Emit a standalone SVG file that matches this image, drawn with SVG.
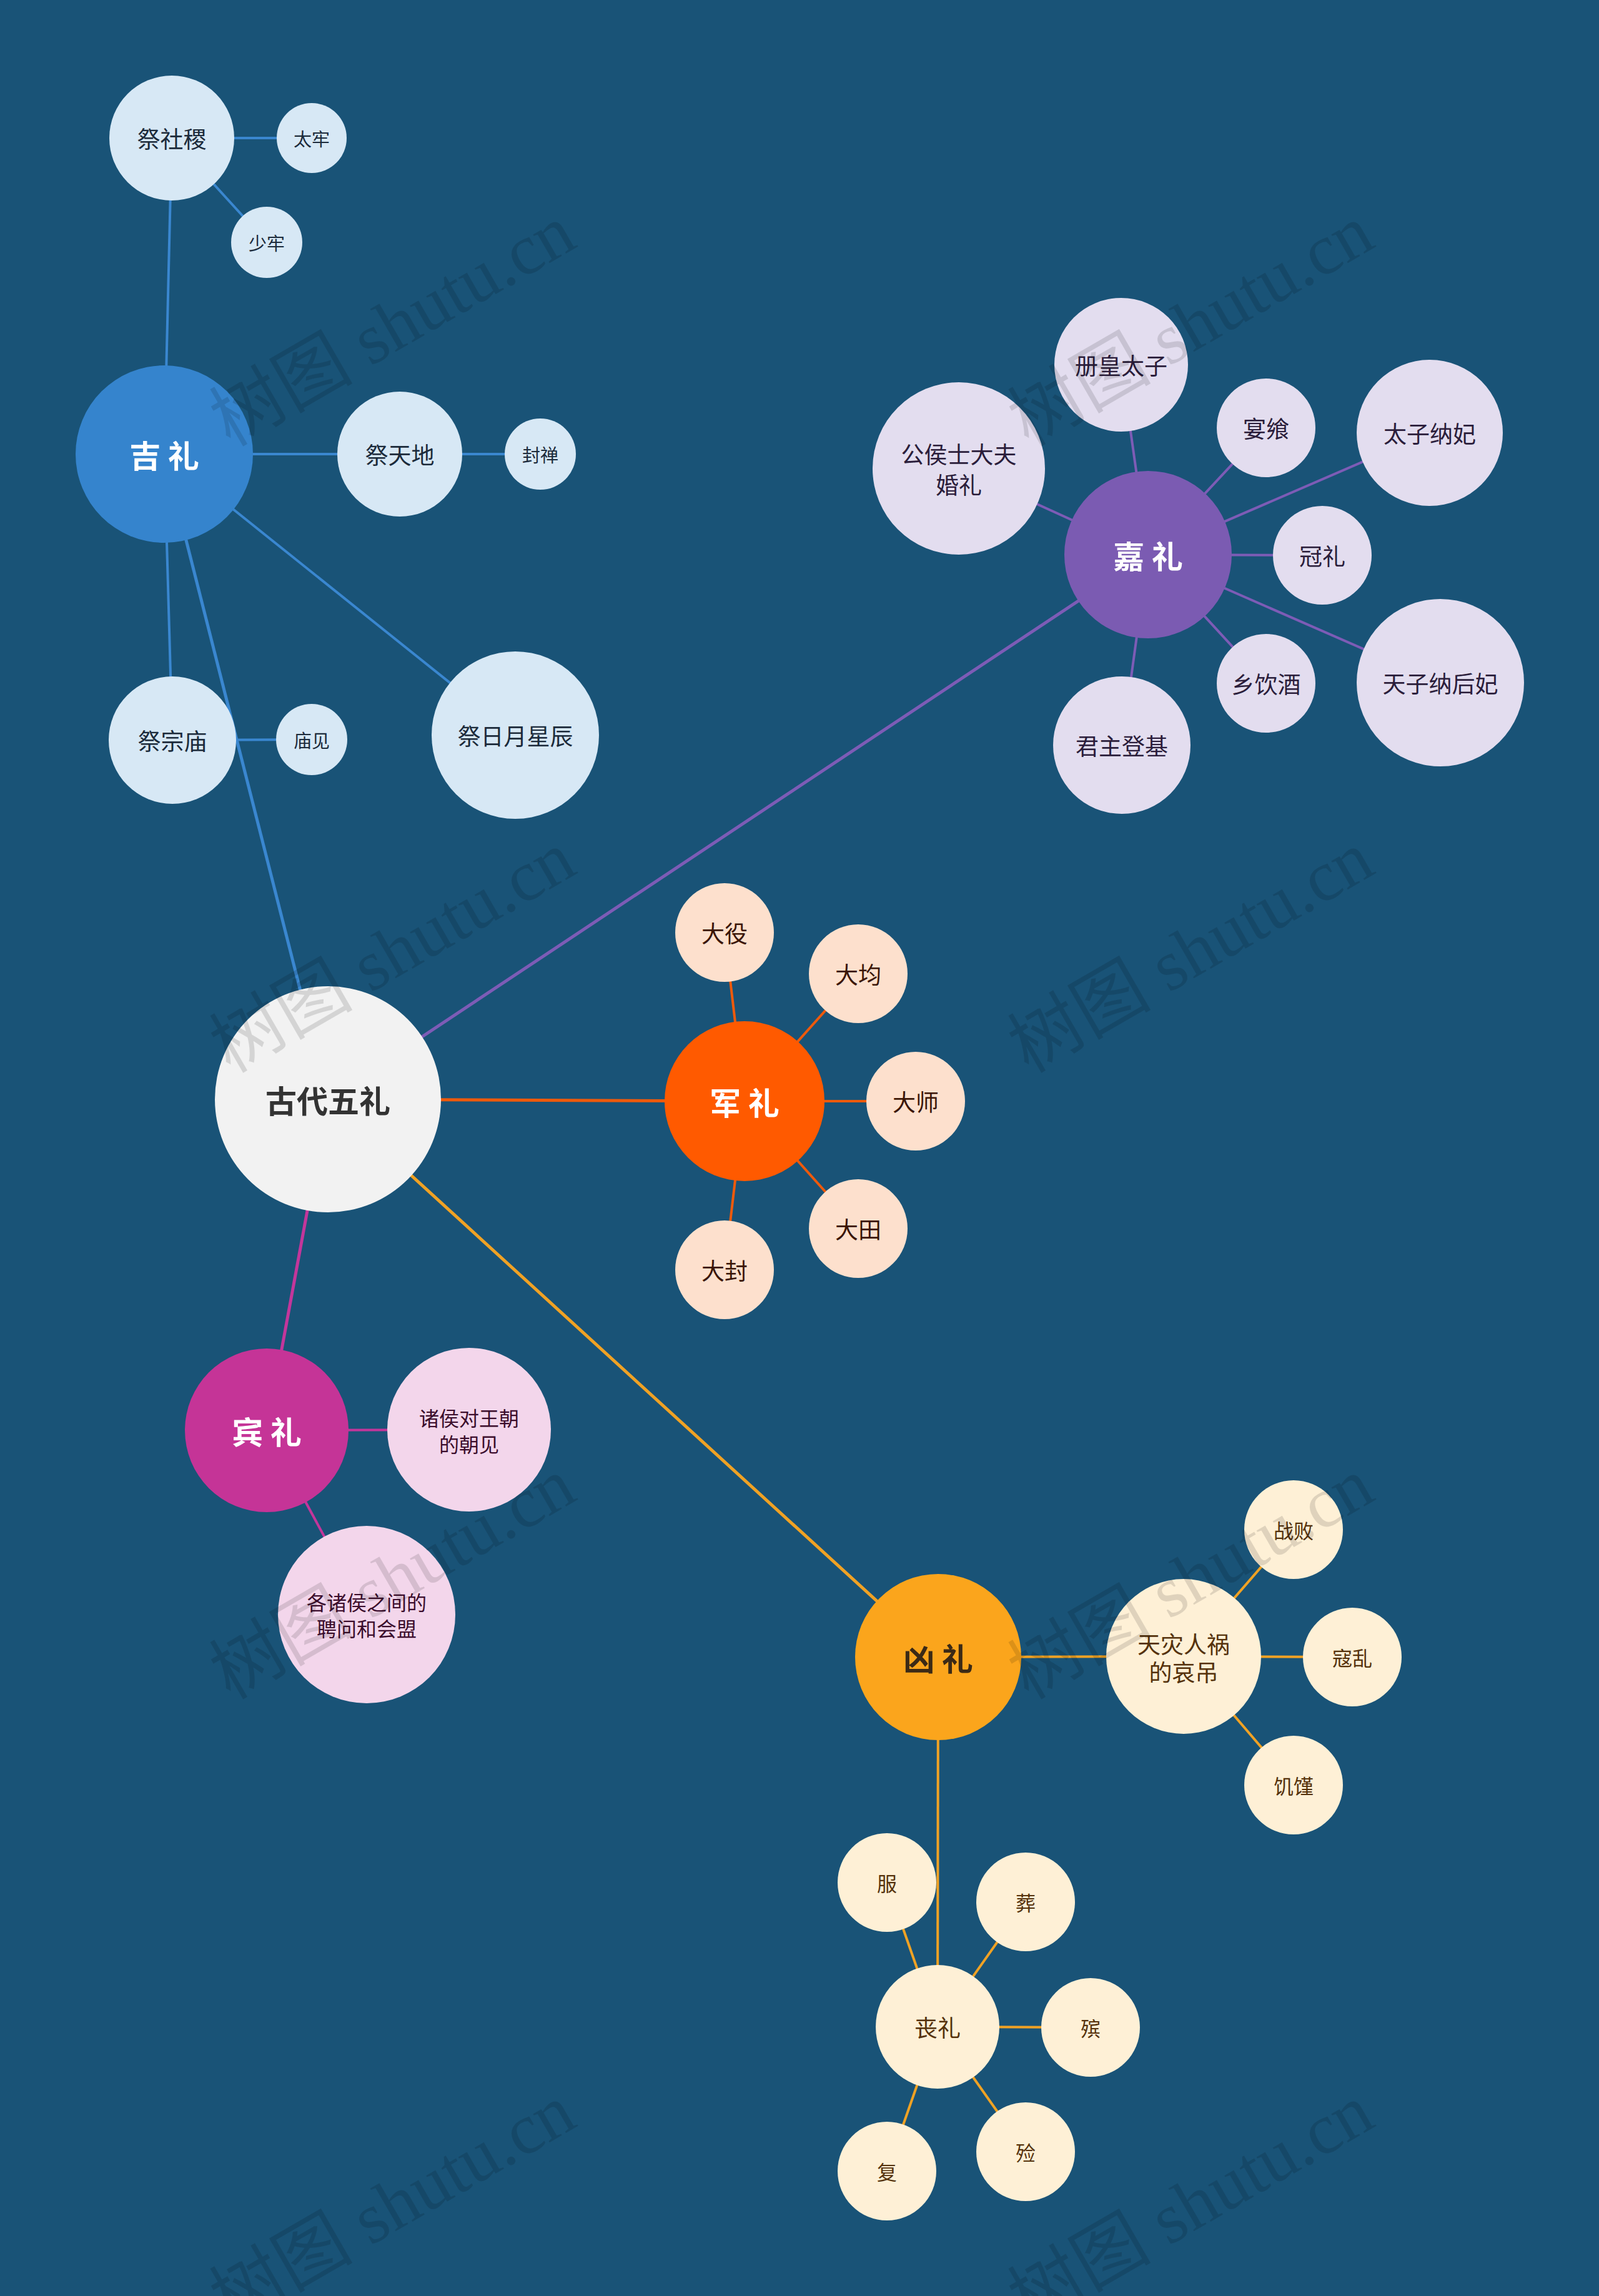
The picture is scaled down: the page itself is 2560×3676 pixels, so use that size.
<svg xmlns="http://www.w3.org/2000/svg" width="2560" height="3676" viewBox="0 0 2560 3676">
<style>
text{font-family:"Noto Sans CJK SC","Noto Sans",sans-serif;text-anchor:middle;dominant-baseline:central}
.main{font-size:50px;font-weight:bold;fill:#ffffff}
.root{font-size:50px;font-weight:bold;fill:#333333}
.t37{font-size:37px}
.t32{font-size:32px}
.t29{font-size:29px}
.cb{fill:#d7e8f5}.tb{fill:#1c2b3b}
.cp{fill:#e3ddef}.tp{fill:#2b1d3b}
.co{fill:#fde0cd}.to{fill:#3b1606}
.cm{fill:#f3d6eb}.tm{fill:#3b0d2c}
.cy{fill:#fef0d6}.ty{fill:#55320c}
.lb{stroke:#3a87d0}.lp{stroke:#7d5cb6}.lo{stroke:#ee5a0c}.lm{stroke:#c3369b}.ly{stroke:#f0a224}
.m{stroke-width:5}.s{stroke-width:4}
.wm{font-family:"Liberation Serif","Noto Sans CJK SC",serif;font-size:115px;fill:#000000;fill-opacity:0.12;dominant-baseline:auto}
</style>
<rect x="0" y="0" width="2560" height="3676" fill="#195377"/>
<g id="connectors" fill="none">
<line class="lb m" x1="525" y1="1760" x2="263" y2="727"/>
<line class="lp m" x1="525" y1="1760" x2="1838" y2="888"/>
<line class="lo m" x1="525" y1="1760" x2="1192" y2="1763"/>
<line class="lm m" x1="525" y1="1760" x2="427" y2="2290"/>
<line class="ly m" x1="525" y1="1760" x2="1502" y2="2653"/>
<line class="lb s" x1="263" y1="727" x2="275" y2="221"/>
<line class="lb s" x1="275" y1="221" x2="499" y2="221"/>
<line class="lb s" x1="275" y1="221" x2="427" y2="388"/>
<line class="lb s" x1="263" y1="727" x2="640" y2="727"/>
<line class="lb s" x1="640" y1="727" x2="865" y2="727"/>
<line class="lb s" x1="263" y1="727" x2="276" y2="1185"/>
<line class="lb s" x1="276" y1="1185" x2="499" y2="1184"/>
<line class="lb s" x1="263" y1="727" x2="825" y2="1177"/>
<line class="lp s" x1="1838" y1="888" x2="1795" y2="584"/>
<line class="lp s" x1="1838" y1="888" x2="1535" y2="750"/>
<line class="lp s" x1="1838" y1="888" x2="2027" y2="685"/>
<line class="lp s" x1="1838" y1="888" x2="2289" y2="693"/>
<line class="lp s" x1="1838" y1="888" x2="2117" y2="889"/>
<line class="lp s" x1="1838" y1="888" x2="2306" y2="1093"/>
<line class="lp s" x1="1838" y1="888" x2="2027" y2="1094"/>
<line class="lp s" x1="1838" y1="888" x2="1796" y2="1193"/>
<line class="lo s" x1="1192" y1="1763" x2="1160" y2="1493"/>
<line class="lo s" x1="1192" y1="1763" x2="1374" y2="1559"/>
<line class="lo s" x1="1192" y1="1763" x2="1466" y2="1763"/>
<line class="lo s" x1="1192" y1="1763" x2="1374" y2="1967"/>
<line class="lo s" x1="1192" y1="1763" x2="1160" y2="2033"/>
<line class="lm s" x1="427" y1="2290" x2="751" y2="2289"/>
<line class="lm s" x1="427" y1="2290" x2="587" y2="2585"/>
<line class="ly s" x1="1502" y1="2653" x2="1895" y2="2652"/>
<line class="ly s" x1="1895" y1="2652" x2="2071" y2="2449"/>
<line class="ly s" x1="1895" y1="2652" x2="2165" y2="2653"/>
<line class="ly s" x1="1895" y1="2652" x2="2071" y2="2858"/>
<line class="ly s" x1="1502" y1="2653" x2="1501" y2="3245"/>
<line class="ly s" x1="1501" y1="3245" x2="1420" y2="3014"/>
<line class="ly s" x1="1501" y1="3245" x2="1642" y2="3045"/>
<line class="ly s" x1="1501" y1="3245" x2="1746" y2="3246"/>
<line class="ly s" x1="1501" y1="3245" x2="1642" y2="3445"/>
<line class="ly s" x1="1501" y1="3245" x2="1420" y2="3476"/>
</g>
<g id="n-root"><circle cx="525" cy="1760" r="181" fill="#f2f2f2"/><text class="root" x="525" y="1760">古代五礼</text></g>
<g id="n-jili"><circle cx="263" cy="727" r="142" fill="#3584cd"/><text class="main" x="263" y="727">吉 礼</text></g>
<g id="n-jisheji"><circle class="cb" cx="275" cy="221" r="100"/><text class="t37 tb" x="275" y="221">祭社稷</text></g>
<g id="n-tailao"><circle class="cb" cx="499" cy="221" r="56"/><text class="t29 tb" x="499" y="221">太牢</text></g>
<g id="n-shaolao"><circle class="cb" cx="427" cy="388" r="57"/><text class="t29 tb" x="427" y="388">少牢</text></g>
<g id="n-jitiandi"><circle class="cb" cx="640" cy="727" r="100"/><text class="t37 tb" x="640" y="727">祭天地</text></g>
<g id="n-fengshan"><circle class="cb" cx="865" cy="727" r="57"/><text class="t29 tb" x="865" y="727">封禅</text></g>
<g id="n-jizongmiao"><circle class="cb" cx="276" cy="1185" r="102"/><text class="t37 tb" x="276" y="1185">祭宗庙</text></g>
<g id="n-miaojian"><circle class="cb" cx="499" cy="1184" r="57"/><text class="t29 tb" x="499" y="1184">庙见</text></g>
<g id="n-jiriyue"><circle class="cb" cx="825" cy="1177" r="134"/><text class="t37 tb" x="825" y="1177">祭日月星辰</text></g>
<g id="n-jiali"><circle cx="1838" cy="888" r="134" fill="#7b5bb2"/><text class="main" x="1838" y="888">嘉 礼</text></g>
<g id="n-cehuang"><circle class="cp" cx="1795" cy="584" r="107"/><text class="t37 tp" x="1795" y="584">册皇太子</text></g>
<g id="n-gonghou"><circle class="cp" cx="1535" cy="750" r="138"/><text class="t37 tp" x="1535" y="726">公侯士大夫</text><text class="t37 tp" x="1535" y="775">婚礼</text></g>
<g id="n-yanxiang"><circle class="cp" cx="2027" cy="685" r="79"/><text class="t37 tp" x="2027" y="685">宴飨</text></g>
<g id="n-taizinafei"><circle class="cp" cx="2289" cy="693" r="117"/><text class="t37 tp" x="2289" y="693">太子纳妃</text></g>
<g id="n-guanli"><circle class="cp" cx="2117" cy="889" r="79"/><text class="t37 tp" x="2117" y="889">冠礼</text></g>
<g id="n-tianzi"><circle class="cp" cx="2306" cy="1093" r="134"/><text class="t37 tp" x="2306" y="1093">天子纳后妃</text></g>
<g id="n-xiangyin"><circle class="cp" cx="2027" cy="1094" r="79"/><text class="t37 tp" x="2027" y="1094">乡饮酒</text></g>
<g id="n-junzhu"><circle class="cp" cx="1796" cy="1193" r="110"/><text class="t37 tp" x="1796" y="1193">君主登基</text></g>
<g id="n-junli"><circle cx="1192" cy="1763" r="128" fill="#ff5a00"/><text class="main" x="1192" y="1763">军 礼</text></g>
<g id="n-dayi"><circle class="co" cx="1160" cy="1493" r="79"/><text class="t37 to" x="1160" y="1493">大役</text></g>
<g id="n-dajun"><circle class="co" cx="1374" cy="1559" r="79"/><text class="t37 to" x="1374" y="1559">大均</text></g>
<g id="n-dashi"><circle class="co" cx="1466" cy="1763" r="79"/><text class="t37 to" x="1466" y="1763">大师</text></g>
<g id="n-datian"><circle class="co" cx="1374" cy="1967" r="79"/><text class="t37 to" x="1374" y="1967">大田</text></g>
<g id="n-dafeng"><circle class="co" cx="1160" cy="2033" r="79"/><text class="t37 to" x="1160" y="2033">大封</text></g>
<g id="n-binli"><circle cx="427" cy="2290" r="131" fill="#c53497"/><text class="main" x="427" y="2290">宾 礼</text></g>
<g id="n-zhuhou"><circle class="cm" cx="751" cy="2289" r="131"/><text class="t32 tm" x="751" y="2269">诸侯对王朝</text><text class="t32 tm" x="751" y="2311">的朝见</text></g>
<g id="n-gezhuhou"><circle class="cm" cx="587" cy="2585" r="142"/><text class="t32 tm" x="587" y="2564">各诸侯之间的</text><text class="t32 tm" x="587" y="2606">聘问和会盟</text></g>
<g id="n-xiongli"><circle cx="1502" cy="2653" r="133" fill="#fba51c"/><text class="main" x="1502" y="2653" style="fill:#3b2a16">凶 礼</text></g>
<g id="n-tianzai"><circle class="cy" cx="1895" cy="2652" r="124"/><text class="t37 ty" x="1895" y="2631">天灾人祸</text><text class="t37 ty" x="1895" y="2676">的哀吊</text></g>
<g id="n-zhanbai"><circle class="cy" cx="2071" cy="2449" r="79"/><text class="t32 ty" x="2071" y="2449">战败</text></g>
<g id="n-kouluan"><circle class="cy" cx="2165" cy="2653" r="79"/><text class="t32 ty" x="2165" y="2653">寇乱</text></g>
<g id="n-jijin"><circle class="cy" cx="2071" cy="2858" r="79"/><text class="t32 ty" x="2071" y="2858">饥馑</text></g>
<g id="n-sangli"><circle class="cy" cx="1501" cy="3245" r="99"/><text class="t37 ty" x="1501" y="3245">丧礼</text></g>
<g id="n-fu"><circle class="cy" cx="1420" cy="3014" r="79"/><text class="t32 ty" x="1420" y="3014">服</text></g>
<g id="n-zang"><circle class="cy" cx="1642" cy="3045" r="79"/><text class="t32 ty" x="1642" y="3045">葬</text></g>
<g id="n-bin"><circle class="cy" cx="1746" cy="3246" r="79"/><text class="t32 ty" x="1746" y="3246">殡</text></g>
<g id="n-lian"><circle class="cy" cx="1642" cy="3445" r="79"/><text class="t32 ty" x="1642" y="3445">殓</text></g>
<g id="n-fu2"><circle class="cy" cx="1420" cy="3476" r="79"/><text class="t32 ty" x="1420" y="3476">复</text></g>
<g id="watermarks">
<text class="wm" transform="translate(648,555) rotate(-30)">树图 shutu.cn</text>
<text class="wm" transform="translate(1926,555) rotate(-30)">树图 shutu.cn</text>
<text class="wm" transform="translate(648,1558) rotate(-30)">树图 shutu.cn</text>
<text class="wm" transform="translate(1926,1558) rotate(-30)">树图 shutu.cn</text>
<text class="wm" transform="translate(648,2561) rotate(-30)">树图 shutu.cn</text>
<text class="wm" transform="translate(1926,2561) rotate(-30)">树图 shutu.cn</text>
<text class="wm" transform="translate(648,3564) rotate(-30)">树图 shutu.cn</text>
<text class="wm" transform="translate(1926,3564) rotate(-30)">树图 shutu.cn</text>
</g>
</svg>
